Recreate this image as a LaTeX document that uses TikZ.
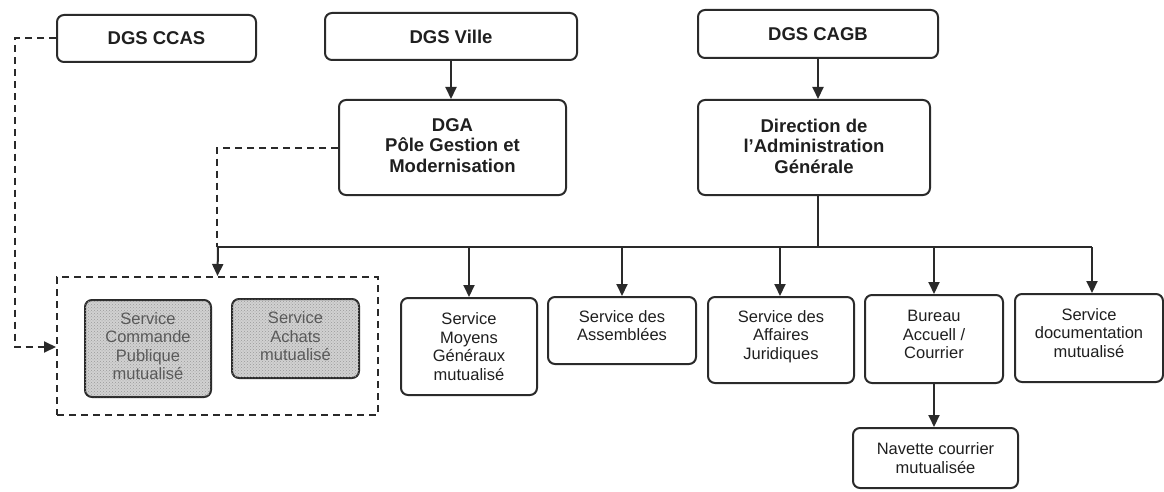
\documentclass[tikz,border=0pt]{standalone}
\usepackage{fontspec}
\setmainfont{Liberation Sans}
\usetikzlibrary{arrows.meta,patterns}
\definecolor{ln}{HTML}{2A2A2A}
\newcommand{\dn}[1]{\rule[-#1pt]{0pt}{0pt}}
\begin{document}
\begin{tikzpicture}[x=1pt,y=-1pt,
  box/.style={draw=ln,line width=2pt,rounded corners=7pt,align=center,inner sep=0pt,
    font=\fontsize{16.5}{18.5}\selectfont, text=black!88},
  topbox/.style={box,font=\fontsize{18.5}{20.5}\selectfont\bfseries},
  shbox/.style={box,fill=black!18,text=black!65,
    postaction={pattern=crosshatch dots,pattern color=black!40}},
  conn/.style={draw=ln,line width=2pt},
  arr/.style={conn,-{Triangle[width=11pt,length=12pt]}},
  dsh/.style={draw=ln,line width=2pt,dash pattern=on 7pt off 5pt}]
\useasboundingbox (0,0) rectangle (1164,492);
% top
\node[topbox,minimum width=199,minimum height=47] (ccas) at (156.5,38.5) {DGS CCAS};
\node[topbox,minimum width=252,minimum height=47] (ville) at (451,36.5) {DGS Ville};
\node[topbox,minimum width=240,minimum height=48] (cagb) at (818,34) {DGS CAGB};
\node[topbox,minimum width=227,minimum height=95] (dga) at (452.5,147.5) {DGA\\Pôle Gestion et\\Modernisation\dn{4}};
\node[topbox,minimum width=232,minimum height=95] (dir) at (814,147.5) {Direction de\\l’Administration\\Générale\dn{3}};
% group
\node[dsh,minimum width=321,minimum height=138,inner sep=0pt] (grp) at (217.5,346) {};
\node[shbox,minimum width=126,minimum height=97] (cmd) at (148,348.5) {Service\\Commande\\Publique\\mutualisé\dn{5}};
\node[shbox,minimum width=127,minimum height=79] (ach) at (295.5,338.5) {Service\\Achats\\mutualisé\dn{4}};
% services
\node[box,minimum width=136,minimum height=97] (moy) at (469,346.5) {Service\\Moyens\\Généraux\\mutualisé};
\node[box,minimum width=148,minimum height=67] (ass) at (622,330.5) {Service des\\Assemblées\dn{10}};
\node[box,minimum width=146,minimum height=86] (jur) at (781,340) {Service des\\Affaires\\Juridiques\dn{10}};
\node[box,minimum width=138,minimum height=88] (bur) at (934,339) {Bureau\\Accuell /\\Courrier\dn{9}};
\node[box,minimum width=148,minimum height=88] (doc) at (1089,338) {Service\\documentation\\mutualisé\dn{10}};
\node[box,minimum width=165,minimum height=60] (nav) at (935.5,458) {Navette courrier\\mutualisée};
% connectors
\coordinate (bl) at (218,247);
\coordinate (br) at (1092,247);
\coordinate (bd) at (818,247);
\draw[arr] (ville.south) -- (ville.south |- dga.north);
\draw[arr] (cagb.south) -- (cagb.south |- dir.north);
\draw[conn] (bd |- dir.south) -- (bd);
\draw[conn] (bl) -- (br);
\draw[arr] (bl) -- (grp.north);
\draw[arr] (moy.north |- bl) -- (moy.north);
\draw[arr] (ass.north |- bl) -- (ass.north);
\draw[arr] (780,247) -- (780,0 |- jur.north);
\draw[arr] (bur.north |- bl) -- (bur.north);
\draw[arr] (br) -- (br |- doc.north);
\draw[arr] (bur.south) -- (bur.south |- nav.north);
\draw[dsh] (dga.west) -- (217,0 |- dga.west) -- (217,247);
\draw[dsh,-{Triangle[width=11pt,length=12pt]}] (ccas.west) -- (15,0 |- ccas.west) -- (15,347) -- (grp.west |- 0,347);
\end{tikzpicture}
\end{document}
